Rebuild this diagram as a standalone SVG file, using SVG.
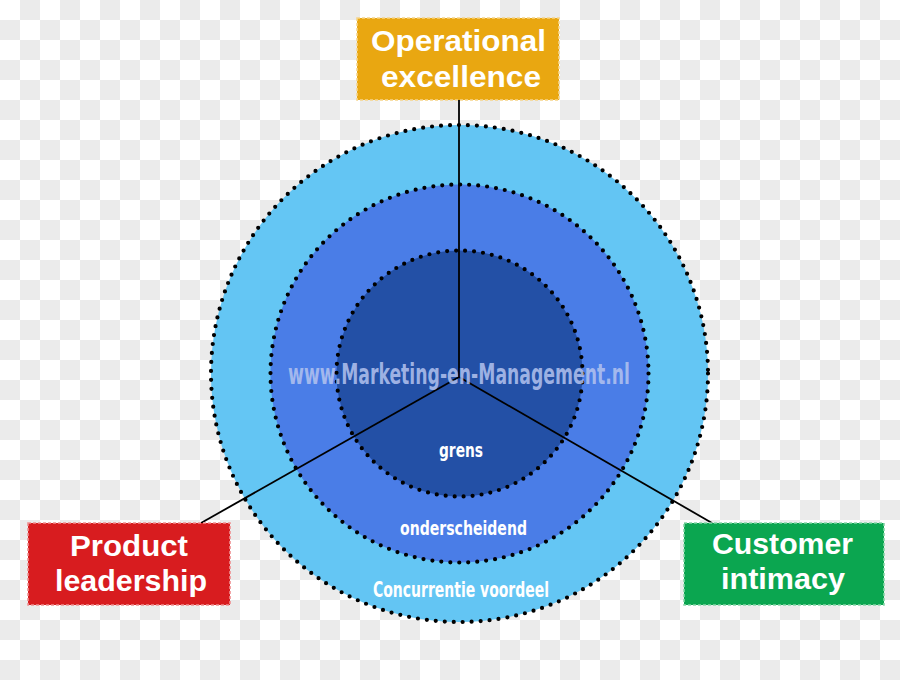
<svg xmlns="http://www.w3.org/2000/svg" width="900" height="680" viewBox="0 0 900 680">
  <defs>
    <pattern id="checker" x="0" y="0" width="40" height="40" patternUnits="userSpaceOnUse">
      <rect x="0" y="0" width="40" height="40" fill="#ffffff"/>
      <rect x="20" y="0" width="20" height="20" fill="#ebebeb"/>
      <rect x="0" y="20" width="20" height="20" fill="#ebebeb"/>
    </pattern>
    <style>
      .ring { stroke: #000000; stroke-width: 4.2; stroke-dasharray: 0 9; stroke-linecap: round; fill-opacity: 0.94; }
      .box { stroke-width: 1.6; stroke-dasharray: 3 2; }
      .boxtxt { font-family: "Liberation Sans", Arial, sans-serif; font-weight: bold; font-size: 29px; fill: #ffffff; text-anchor: middle; }
      .ringtxt { font-family: "Liberation Sans Narrow", "DejaVu Sans Condensed", "Liberation Sans", sans-serif; font-weight: bold; fill: #ffffff; text-anchor: middle; }
      .conn { stroke: #000000; stroke-width: 1.8; fill: none; }
    </style>
  </defs>

  <rect x="0" y="0" width="900" height="680" fill="url(#checker)"/>

  <g id="rings">
    <circle class="ring" cx="459.5" cy="373.5" r="248.5" fill="#5ac2f3"/>
    <circle class="ring" cx="459.5" cy="373.5" r="189" fill="#4878e6"/>
    <circle class="ring" cx="459.5" cy="373.5" r="123" fill="#214ea2"/>
  </g>

  <g id="connectors">
    <line class="conn" x1="459" y1="100" x2="459" y2="377"/>
    <line class="conn" x1="459" y1="377" x2="201" y2="523"/>
    <line class="conn" x1="459" y1="377" x2="712" y2="523"/>
  </g>

  <g id="watermark">
    <text class="ringtxt" x="459" y="384" font-size="28" textLength="342" lengthAdjust="spacingAndGlyphs" style="fill:#b4c3ef;fill-opacity:0.85">www.Marketing-en-Management.nl</text>
  </g>

  <g id="ring-grens">
    <text class="ringtxt" x="461" y="457" font-size="20" textLength="44" lengthAdjust="spacingAndGlyphs">grens</text>
  </g>
  <g id="ring-onderscheidend">
    <text class="ringtxt" x="463.5" y="535" font-size="20" textLength="127" lengthAdjust="spacingAndGlyphs">onderscheidend</text>
  </g>
  <g id="ring-concurrentie">
    <text class="ringtxt" x="461" y="597" font-size="21" textLength="176" lengthAdjust="spacingAndGlyphs">Concurrentie voordeel</text>
  </g>

  <g id="operational-excellence">
    <rect class="box" x="357" y="18" width="202" height="82" fill="#e9a711" stroke="#f6d58a"/>
    <text class="boxtxt" x="458.5" y="51" textLength="175" lengthAdjust="spacingAndGlyphs">Operational</text>
    <text class="boxtxt" x="461" y="87" textLength="160" lengthAdjust="spacingAndGlyphs">excellence</text>
  </g>

  <g id="product-leadership">
    <rect class="box" x="28" y="523" width="202" height="82" fill="#d81c1f" stroke="#ef8f90"/>
    <text class="boxtxt" x="129" y="556" textLength="118" lengthAdjust="spacingAndGlyphs">Product</text>
    <text class="boxtxt" x="131" y="591" textLength="152" lengthAdjust="spacingAndGlyphs">leadership</text>
  </g>

  <g id="customer-intimacy">
    <rect class="box" x="684" y="523" width="200" height="82" fill="#0ba650" stroke="#86d6a8"/>
    <text class="boxtxt" x="782.5" y="554" textLength="141" lengthAdjust="spacingAndGlyphs">Customer</text>
    <text class="boxtxt" x="783" y="589" textLength="124" lengthAdjust="spacingAndGlyphs">intimacy</text>
  </g>
</svg>
